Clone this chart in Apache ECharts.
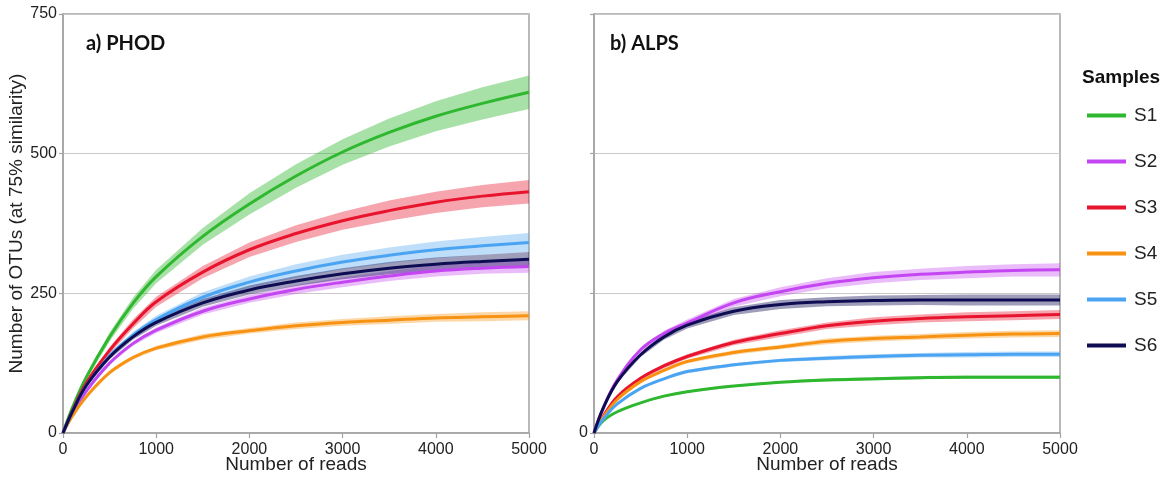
<!DOCTYPE html>
<html>
<head>
<meta charset="utf-8">
<script src="https://cdn.jsdelivr.net/npm/echarts@6/dist/echarts.min.js"></script>
<style>html,body{margin:0;padding:0;background:#fff;}#c{width:1169px;height:478px;}</style>
</head>
<body>
<div id="c"></div>
<script>
// ---- data ----
const reads = [0, 100, 250, 500, 750, 1000, 1500, 2000, 2500, 3000, 3500, 4000, 4500, 5000];
const samples = ['S1', 'S2', 'S3', 'S4', 'S5', 'S6'];
const xTicks = [0, 1000, 2000, 3000, 4000, 5000];
const yTicks = [0, 250, 500, 750];

// a) PHOD: mean OTUs
const phodS1 = [0, 45, 100, 172, 232, 280, 352, 410, 460, 503, 538, 567, 590, 610];
const phodS2 = [0, 33, 75, 125, 160, 184, 218, 240, 257, 270, 281, 290, 295, 298];
const phodS3 = [0, 40, 90, 148, 195, 235, 288, 328, 357, 380, 398, 413, 424, 432];
const phodS4 = [0, 30, 65, 108, 135, 152, 172, 183, 192, 198, 202, 206, 208, 210];
const phodS5 = [0, 38, 85, 138, 175, 203, 243, 270, 290, 306, 318, 328, 335, 341];
const phodS6 = [0, 38, 85, 136, 172, 198, 233, 256, 272, 285, 295, 302, 307, 311];
// a) PHOD: half-width of the shaded band
const phodS1ci = [0, 3, 5, 8, 10, 12, 15, 19, 21, 23, 25, 27, 29, 30];
const phodS2ci = [0, 1, 2, 3, 4, 5, 6, 7, 8, 9, 9, 10, 10, 11];
const phodS3ci = [0, 2, 4, 6, 8, 9, 11, 13, 15, 16, 18, 19, 20, 21];
const phodS4ci = [0, 1, 2, 3, 3, 4, 5, 5, 6, 6, 7, 7, 8, 8];
const phodS5ci = [0, 2, 3, 5, 6, 7, 9, 10, 12, 13, 14, 15, 16, 17];
const phodS6ci = [0, 1, 2, 4, 5, 6, 7, 8, 9, 10, 11, 12, 12, 13];

// b) ALPS: mean OTUs
const alpsS1 = [0, 22, 38, 54, 66, 74, 84, 91, 95, 97, 99, 100, 100, 100];
const alpsS2 = [0, 45, 95, 149, 178, 197, 233, 253, 268, 278, 284, 288, 291, 292];
const alpsS3 = [0, 30, 65, 98, 120, 137, 162, 178, 192, 200, 205, 208, 210, 212];
const alpsS4 = [0, 28, 60, 92, 112, 128, 144, 154, 164, 169, 172, 175, 177, 178];
const alpsS5 = [0, 25, 52, 80, 97, 110, 122, 130, 134, 137, 139, 140, 141, 141];
const alpsS6 = [0, 45, 92, 140, 172, 193, 218, 230, 235, 237, 238, 238, 238, 238];
// b) ALPS: half-width of the shaded band
const alpsS1ci = [0, 1, 1, 1, 2, 2, 2, 2, 3, 3, 3, 3, 3, 3];
const alpsS2ci = [0, 2, 3, 4, 5, 6, 7, 8, 9, 10, 10, 11, 11, 12];
const alpsS3ci = [0, 1, 2, 3, 4, 4, 5, 6, 6, 7, 7, 8, 8, 8];
const alpsS4ci = [0, 1, 2, 2, 3, 3, 4, 4, 5, 5, 5, 6, 6, 6];
const alpsS5ci = [0, 1, 1, 2, 2, 3, 3, 3, 4, 4, 4, 5, 5, 5];
const alpsS6ci = [0, 2, 3, 4, 5, 6, 7, 8, 8, 9, 9, 10, 10, 10];

// ---- styles ----
const lineColors = ['#2fb82f', '#c445f2', '#e8132c', '#f79212', '#4ba4f2', '#0e0c52'];
const bandColors = ['rgba(47,184,47,0.42)', 'rgba(196,69,242,0.36)', 'rgba(232,19,44,0.38)',
                    'rgba(247,146,18,0.36)', 'rgba(75,164,242,0.36)', 'rgba(14,12,82,0.40)'];

const panels = [
  {means: [phodS1, phodS2, phodS3, phodS4, phodS5, phodS6], cis: [phodS1ci, phodS2ci, phodS3ci, phodS4ci, phodS5ci, phodS6ci]},
  {means: [alpsS1, alpsS2, alpsS3, alpsS4, alpsS5, alpsS6], cis: [alpsS1ci, alpsS2ci, alpsS3ci, alpsS4ci, alpsS5ci, alpsS6ci]}
];

const axisGray = '#a3a3a3';
const series = [];
panels.forEach((p, pi) => {
  p.means.forEach((m, si) => {
    const ci = p.cis[si];
    series.push({
      type: 'custom', name: samples[si] + ' band', coordinateSystem: 'cartesian2d',
      xAxisIndex: pi, yAxisIndex: pi, silent: true, z: 1,
      data: [[reads[reads.length - 1], m[m.length - 1]]],
      renderItem: function (params, api) {
        const up = reads.map((r, i) => api.coord([r, m[i] + ci[i]]));
        const lo = reads.map((r, i) => api.coord([r, Math.max(0, m[i] - ci[i])])).reverse();
        return {type: 'polygon', shape: {points: up.concat(lo)}, style: {fill: bandColors[si], stroke: null}};
      }
    });
  });
});
panels.forEach((p, pi) => {
  p.means.forEach((m, si) => {
    series.push({
      type: 'line', name: samples[si], xAxisIndex: pi, yAxisIndex: pi,
      smooth: 0.4, showSymbol: false, z: 3,
      itemStyle: {color: lineColors[si]},
      lineStyle: {width: 3, color: lineColors[si]},
      data: reads.map((r, i) => [r, m[i]])
    });
  });
});

const labelFont = {fontFamily: 'Liberation Sans', fontSize: 16, color: '#222'};
function xAxis(gi) {
  return {
    type: 'value', gridIndex: gi, min: xTicks[0], max: xTicks[xTicks.length - 1], interval: 1000,
    name: 'Number of reads', nameLocation: 'middle', nameGap: 22, nameMoveOverlap: false,
    nameTextStyle: {fontFamily: 'Liberation Sans', fontSize: 19, color: '#222'},
    axisLine: {show: true, lineStyle: {color: axisGray, width: 1.5}},
    axisTick: {show: true, length: 5, lineStyle: {color: axisGray, width: 1.2}},
    axisLabel: Object.assign({margin: 9, formatter: v => String(v)}, labelFont),
    splitLine: {show: false}
  };
}
function yAxis(gi) {
  return {
    type: 'value', gridIndex: gi, min: yTicks[0], max: yTicks[yTicks.length - 1], interval: 250,
    name: gi === 0 ? 'Number of OTUs (at 75% similarity)' : '',
    nameLocation: 'middle', nameGap: 34, nameRotate: 90,
    nameTextStyle: {fontFamily: 'Liberation Sans', fontSize: 19, color: '#222'},
    axisLine: {show: true, lineStyle: {color: axisGray, width: 1.5}},
    axisTick: {show: true, length: 4, lineStyle: {color: axisGray, width: 1.2}},
    axisLabel: Object.assign({margin: 6, formatter: v => (gi === 0 || v === 0) ? String(v) : ''}, labelFont),
    splitLine: {show: true, lineStyle: {color: '#c9c9c9', width: 1.2}}
  };
}

const option = {
  backgroundColor: '#fff',
  animation: false,
  title: [
    {text: 'a) PHOD', left: 81, top: 29, textStyle: {fontFamily: 'Lato', fontWeight: 'bold', fontSize: 20, color: '#111'}},
    {text: 'b) ALPS', left: 605, top: 29, textStyle: {fontFamily: 'Lato', fontWeight: 'bold', fontSize: 20, color: '#111'}},
    {text: 'Samples', left: 1077, top: 63, textStyle: {fontFamily: 'Liberation Sans', fontWeight: 'bold', fontSize: 19, color: '#111'}}
  ],
  legend: {
    data: samples, orient: 'vertical', left: 1082, top: 101,
    icon: 'rect', itemWidth: 39, itemHeight: 4, itemGap: 27,
    textStyle: {fontFamily: 'Liberation Sans', fontSize: 19, color: '#222', padding: [0, 0, 0, 3]}
  },
  grid: [
    {left: 63, right: 640, top: 14, bottom: 45, show: true, borderColor: axisGray, borderWidth: 1.5,
     backgroundColor: 'transparent', containLabel: false, outerBoundsMode: 'none'},
    {left: 594, right: 109, top: 14, bottom: 45, show: true, borderColor: axisGray, borderWidth: 1.5,
     backgroundColor: 'transparent', containLabel: false, outerBoundsMode: 'none'}
  ],
  xAxis: [xAxis(0), xAxis(1)],
  yAxis: [yAxis(0), yAxis(1)],
  series: series
};

const chart = echarts.init(document.getElementById('c'), null, {renderer: 'canvas'});
chart.setOption(option);
</script>
</body>
</html>
